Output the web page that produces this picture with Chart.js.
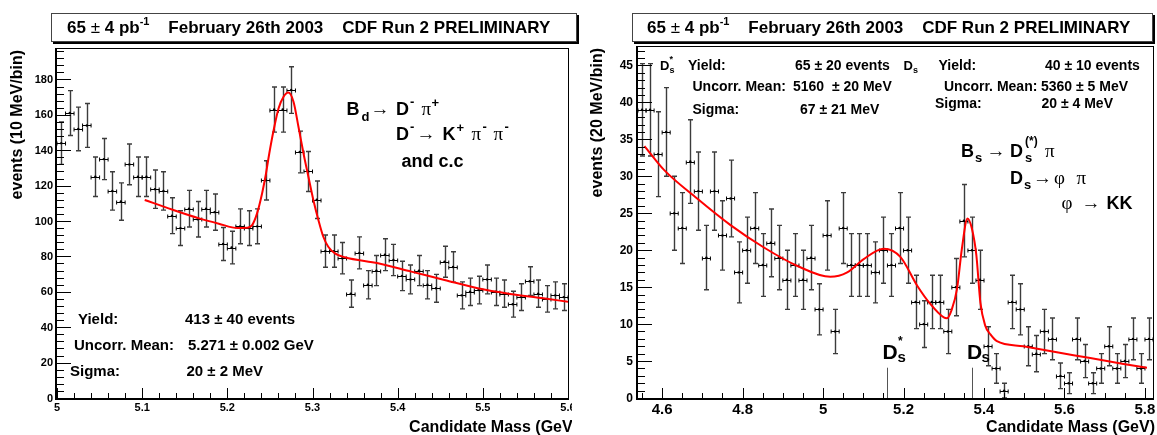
<!DOCTYPE html>
<html>
<head>
<meta charset="utf-8">
<script src="https://cdn.jsdelivr.net/npm/chart.js@4.4.1/dist/chart.umd.min.js"></script>
<style>
  html, body { margin: 0; padding: 0; background: #fff; }
  body { width: 1157px; height: 435px; position: relative; overflow: hidden;
         font-family: "Liberation Sans", Arial, Helvetica, sans-serif; }
  canvas { position: absolute; top: 0; }
  #bdCanvas { left: 0; }
  #bsCanvas { left: 580px; }
  .runbox { position: absolute; top: 13px; height: 29px; box-sizing: border-box;
            border: 1px solid #444; box-shadow: 2px 2px 0 #000; background: #fff;
            font-weight: bold; font-size: 17px; line-height: 27px; white-space: pre; color: #000; }
  .runbox sup { font-size: 11px; line-height: 0; position: relative; top: -1px; }
  .runbox .pm { font-weight: normal; }
</style>
</head>
<body>
<canvas id="bdCanvas" width="572" height="435"></canvas>
<canvas id="bsCanvas" width="577" height="435"></canvas>
<div class="runbox" style="left:51px;width:526px;padding-left:15px">65 <span class="pm">±</span> 4 pb<sup>-1</sup>    February 26th 2003    CDF Run 2 PRELIMINARY</div>
<div class="runbox" style="left:632px;width:521px;padding-left:14px">65 <span class="pm">±</span> 4 pb<sup>-1</sup>    February 26th 2003    CDF Run 2 PRELIMINARY</div>

<script>
// ---------- B_d -> D pi : 10 MeV bins ----------
const bdMass = [5.005, 5.015, 5.025, 5.035, 5.045, 5.055, 5.065, 5.075, 5.085, 5.095,
                5.105, 5.115, 5.125, 5.135, 5.145, 5.155, 5.165, 5.175, 5.185, 5.195,
                5.205, 5.215, 5.225, 5.235, 5.245, 5.255, 5.265, 5.275, 5.285, 5.295,
                5.305, 5.315, 5.325, 5.335, 5.345, 5.355, 5.365, 5.375, 5.385, 5.395,
                5.405, 5.415, 5.425, 5.435, 5.445, 5.455, 5.465, 5.475, 5.485, 5.495,
                5.505, 5.515, 5.525, 5.535, 5.545, 5.555, 5.565, 5.575, 5.585, 5.595];
const bdEvents = [144, 161, 152, 154, 125, 135, 117, 111, 132, 125,
                  125, 118, 117, 103, 96, 107, 101, 107, 105, 87,
                  85, 97, 96, 97, 123, 163, 163, 174, 139, 128,
                  112, 83, 83, 79, 59, 82, 64, 72, 81, 78,
                  69, 67, 72, 64, 62, 77, 74, 58, 60, 61,
                  67, 60, 59, 53, 57, 66, 59, 56, 58, 57];
// fitted shape (background + gaussian), sampled along the drawn curve
const bdFitMass = [5.103, 5.135, 5.167, 5.19, 5.212, 5.2229, 5.2291, 5.2349, 5.2408, 5.2447,
                   5.2493, 5.2544, 5.2602, 5.266, 5.2715, 5.2777, 5.2835, 5.2894, 5.2952, 5.301,
                   5.3069, 5.3127, 5.3185, 5.3264, 5.338, 5.377, 5.416, 5.455, 5.494, 5.532,
                   5.571, 5.6];
const bdFitEvents = [111.9, 106.5, 101.5, 98.5, 96.0, 96.2, 97.7, 104.3, 115.6, 125.0,
                     138.3, 151.4, 163.7, 170.2, 172.6, 167.4, 153.3, 138.3, 125.0, 111.9,
                     100.6, 91.1, 85.5, 81.7, 79.5, 76.1, 71.4, 66.7, 62.0, 58.8,
                     56.3, 54.4];
const bdXTicks = [5.0, 5.1, 5.2, 5.3, 5.4, 5.5, 5.6];
const bdXTickLabels = ['5', '5.1', '5.2', '5.3', '5.4', '5.5', '5.6'];
const bdYTicks = [0, 20, 40, 60, 80, 100, 120, 140, 160, 180];

// ---------- B_s -> D_s(*) pi : 20 MeV bins ----------
const bsMass = [4.55, 4.57, 4.59, 4.61, 4.63, 4.65, 4.67, 4.69, 4.71, 4.73,
                4.75, 4.77, 4.79, 4.81, 4.83, 4.85, 4.87, 4.89, 4.91, 4.93,
                4.95, 4.97, 4.99, 5.01, 5.03, 5.05, 5.07, 5.09, 5.11, 5.13,
                5.15, 5.17, 5.19, 5.21, 5.23, 5.25, 5.27, 5.29, 5.31, 5.33,
                5.35, 5.37, 5.39, 5.41, 5.43, 5.45, 5.47, 5.49, 5.51, 5.53,
                5.55, 5.57, 5.59, 5.61, 5.63, 5.65, 5.67, 5.69, 5.71, 5.73,
                5.75, 5.77, 5.79, 5.81];
const bsEvents = [39, 39, 33, 36, 25, 23, 32, 28, 19, 28,
                  22, 27, 17, 20, 23, 18, 21, 19, 16, 18,
                  16, 19, 12, 22, 9, 23, 18, 18, 18, 17,
                  20, 18, 23, 20, 13, 10, 13, 13, 9, 15,
                  24, 20, 16, 7, 4, 1, 13, 12, 7, 6,
                  9, 8, 3, 2, 8, 5, 2, 4, 7, 4,
                  5, 8, 4, 8];
const bsFitMass = [4.556, 4.604, 4.687, 4.77, 4.852, 4.935, 5.018, 5.06, 5.101, 5.151,
                   5.192, 5.234, 5.267, 5.3, 5.308, 5.32, 5.333, 5.345, 5.359, 5.37,
                   5.381, 5.391, 5.403, 5.416, 5.432, 5.498, 5.581, 5.664, 5.747, 5.805];
const bsFitEvents = [34.1, 30.9, 27.0, 23.4, 20.4, 17.9, 16.4, 17.0, 18.8, 20.2,
                     19.1, 15.2, 12.7, 10.9, 10.8, 12.0, 14.8, 20.2, 24.3, 22.9,
                     19.3, 12.9, 9.8, 8.6, 7.7, 7.0, 6.2, 5.4, 4.6, 4.1];
const bsXTicks = [4.6, 4.8, 5.0, 5.2, 5.4, 5.6, 5.8];
const bsXTickLabels = ['4.6', '4.8', '5', '5.2', '5.4', '5.6', '5.8'];
const bsYTicks = [0, 5, 10, 15, 20, 25, 30, 35, 40, 45];
// fitted peak positions flagged under the spectrum
const bsPeakMarks = [5.16, 5.37];

const SANS = '"Liberation Sans", Arial, Helvetica, sans-serif';
const SERIF = '"Liberation Serif", "DejaVu Serif", serif';
const bold = (px) => `bold ${px}px ${SANS}`;
const sym = (px) => `${px}px ${SERIF}`;

// Poisson error bars with bin-width horizontal bars (ROOT "E1" look)
function histErrorPlugin(mass, counts, binWidth) {
  return {
    id: 'histErrors',
    beforeDatasetsDraw(chart) {
      const { ctx, chartArea: a, scales: { x, y } } = chart;
      ctx.save();
      ctx.beginPath();
      ctx.rect(a.left, a.top, a.right - a.left, a.bottom - a.top);
      ctx.clip();
      mass.forEach((m, i) => {
        const n = counts[i];
        const e = Math.sqrt(n);
        const px = Math.round(x.getPixelForValue(m)) + 0.5;
        const py = Math.round(y.getPixelForValue(n)) + 0.5;
        const x0 = x.getPixelForValue(m - binWidth / 2);
        const x1 = x.getPixelForValue(m + binWidth / 2);
        const yt = y.getPixelForValue(n + e);
        const yb = y.getPixelForValue(Math.max(0, n - e));
        ctx.strokeStyle = '#3c3c3c';
        ctx.lineWidth = 1.4;
        ctx.beginPath();
        ctx.moveTo(px, yt); ctx.lineTo(px, yb);
        ctx.moveTo(px - 2.5, yt); ctx.lineTo(px + 2.5, yt);
        ctx.moveTo(px - 2.5, yb); ctx.lineTo(px + 2.5, yb);
        ctx.stroke();
        ctx.strokeStyle = '#000';
        ctx.lineWidth = 1;
        ctx.beginPath();
        ctx.moveTo(x0, py); ctx.lineTo(x1, py);
        ctx.moveTo(x0, py - 2); ctx.lineTo(x0, py + 2);
        ctx.moveTo(x1, py - 2); ctx.lineTo(x1, py + 2);
        ctx.stroke();
      });
      ctx.restore();
    }
  };
}

// frame, inward ticks, tick labels, axis titles and the text annotations
function rootFramePlugin(spec) {
  return {
    id: 'rootFrame',
    afterDraw(chart) {
      const { ctx, chartArea: a, scales: { x, y } } = chart;
      ctx.save();
      // frame
      ctx.strokeStyle = '#000';
      ctx.lineWidth = 1;
      ctx.beginPath();
      ctx.moveTo(a.left, a.top - 0.5); ctx.lineTo(a.right + 1, a.top - 0.5);
      ctx.moveTo(a.right + 0.5, a.top); ctx.lineTo(a.right + 0.5, a.bottom);
      ctx.stroke();
      ctx.lineWidth = 2;
      ctx.beginPath();
      ctx.moveTo(a.left - 1, a.top - 1); ctx.lineTo(a.left - 1, a.bottom + 1);
      ctx.lineTo(a.right + 1, a.bottom + 1);
      ctx.stroke();

      // inward ticks
      ctx.lineWidth = 1;
      ctx.beginPath();
      const near = (list, v, tol) => list.some(t => Math.abs(t - v) < tol);
      for (let k = Math.ceil(x.min / spec.xMinor - 1e-6); k <= Math.floor(x.max / spec.xMinor + 1e-6); k++) {
        const v = k * spec.xMinor;
        const len = near(spec.xTicks, v, spec.xMinor / 10) ? spec.xMajorLen : spec.xMinorLen;
        const p = Math.round(x.getPixelForValue(v)) + 0.5;
        ctx.moveTo(p, a.bottom); ctx.lineTo(p, a.bottom - len);
      }
      for (let k = Math.ceil(y.min / spec.yMinor - 1e-6); k <= Math.floor(y.max / spec.yMinor + 1e-6); k++) {
        const v = k * spec.yMinor;
        const len = near(spec.yTicks, v, spec.yMinor / 10) ? spec.yMajorLen : spec.yMinorLen;
        const p = Math.round(y.getPixelForValue(v)) + 0.5;
        ctx.moveTo(a.left, p); ctx.lineTo(a.left + len, p);
      }
      ctx.stroke();

      // tick labels
      ctx.fillStyle = '#000';
      ctx.font = bold(spec.xLabelPx);
      ctx.textAlign = 'center';
      ctx.textBaseline = 'middle';
      spec.xTicks.forEach((v, i) => ctx.fillText(spec.xTickLabels[i], x.getPixelForValue(v), spec.xLabelY));
      ctx.font = bold(spec.yLabelPx);
      ctx.textAlign = 'right';
      spec.yTicks.forEach(v => ctx.fillText(String(v), spec.yLabelRight, y.getPixelForValue(v) + 0.5));

      // axis titles
      ctx.font = bold(16);
      ctx.textAlign = 'right';
      ctx.textBaseline = 'alphabetic';
      ctx.fillText('Candidate Mass (GeV)', spec.xTitleRight, 431.5);
      ctx.save();
      ctx.translate(spec.yTitleX, spec.yTitleTop);
      ctx.rotate(-Math.PI / 2);
      ctx.font = bold(16);
      ctx.textAlign = 'right';
      ctx.textBaseline = 'middle';
      ctx.fillText(spec.yTitle, 0, 0);
      ctx.restore();

      // annotations
      ctx.textAlign = 'left';
      ctx.textBaseline = 'alphabetic';
      spec.texts.forEach(([t, px, py, font]) => { ctx.font = font; ctx.fillText(t, px, py); });
      if (spec.extra) spec.extra(ctx, x, y, a);
      ctx.restore();
    }
  };
}

function makeConfig(mass, counts, fitMass, fitEvents, xRange, yRange, padding) {
  return {
    data: {
      datasets: [
        {
          type: 'line',
          data: fitMass.map((m, i) => ({ x: m, y: fitEvents[i] })),
          borderColor: '#ff0000',
          borderWidth: 2,
          pointRadius: 0,
          cubicInterpolationMode: 'monotone',
          fill: false
        },
        {
          type: 'scatter',
          data: mass.map((m, i) => ({ x: m, y: counts[i] })),
          backgroundColor: '#000',
          borderColor: '#000',
          pointRadius: 1.2,
          pointBorderWidth: 0
        }
      ]
    },
    options: {
      responsive: false,
      animation: false,
      events: [],
      layout: { padding },
      plugins: { legend: { display: false }, tooltip: { enabled: false } },
      scales: {
        x: { type: 'linear', min: xRange[0], max: xRange[1], bounds: 'data', display: false },
        y: { type: 'linear', min: yRange[0], max: yRange[1], bounds: 'data', display: false }
      }
    }
  };
}

// ---- left pad ----
const bdCfg = makeConfig(bdMass, bdEvents, bdFitMass, bdFitEvents, [5.0, 5.6], [0, 197.2],
                         { left: 57, right: 0, top: 49, bottom: 37 });
bdCfg.plugins = [
  histErrorPlugin(bdMass, bdEvents, 0.01),
  rootFramePlugin({
    xTicks: bdXTicks, xTickLabels: bdXTickLabels, xMinor: 0.02, xMajorLen: 10, xMinorLen: 5,
    yTicks: bdYTicks, yMinor: 4, yMajorLen: 14, yMinorLen: 7,
    xLabelPx: 11, xLabelY: 408, yLabelPx: 11, yLabelRight: 53,
    xTitleRight: 578, yTitle: 'events (10 MeV/bin)', yTitleX: 18, yTitleTop: 50,
    texts: [
      ['Yield:', 78, 324, bold(15)], ['413 ± 40 events', 185, 324, bold(15)],
      ['Uncorr. Mean:', 74, 350, bold(15)], ['5.271 ± 0.002 GeV', 188, 350, bold(15)],
      ['Sigma:', 70, 376, bold(15)], ['20 ± 2 MeV', 186.5, 376, bold(15)],
      ['B', 346.5, 115, bold(18)], ['d', 361.5, 121, bold(13)], ['→', 370.5, 115, sym(19)],
      ['D', 396, 115, bold(18)], ['-', 410, 106, bold(13)], ['π', 421.5, 115, sym(19)],
      ['+', 431.5, 107, bold(13)],
      ['D', 396, 140, bold(18)], ['-', 410, 131, bold(13)], ['→', 416.5, 140, sym(19)],
      ['K', 442.5, 140, bold(18)], ['+', 456.5, 132, bold(13)], ['π', 471.5, 140, sym(19)],
      ['-', 482.5, 131, bold(13)], ['π', 493.5, 140, sym(19)], ['-', 504.5, 131, bold(13)],
      ['and c.c', 401.5, 166.5, bold(18)]
    ]
  })
];
new Chart(document.getElementById('bdCanvas'), bdCfg);

// ---- right pad ----
const bsCfg = makeConfig(bsMass, bsEvents, bsFitMass, bsFitEvents, [4.54, 5.82], [0, 47.5],
                         { left: 58, right: 3, top: 47, bottom: 37 });
bsCfg.plugins = [
  histErrorPlugin(bsMass, bsEvents, 0.02),
  rootFramePlugin({
    xTicks: bsXTicks, xTickLabels: bsXTickLabels, xMinor: 0.05, xMajorLen: 10, xMinorLen: 5,
    yTicks: bsYTicks, yMinor: 1, yMajorLen: 14, yMinorLen: 7,
    xLabelPx: 15, xLabelY: 410, yLabelPx: 12, yLabelRight: 53,
    xTitleRight: 575, yTitle: 'events (20 MeV/bin)', yTitleX: 18, yTitleTop: 48,
    texts: [
      ['D', 80, 69.5, bold(13)], ['*', 89.5, 62, bold(9)], ['s', 89.5, 73, bold(9)],
      ['Yield:', 108, 69.5, bold(14)], ['65 ± 20 events', 215, 69.5, bold(14)],
      ['Uncorr. Mean:', 112.5, 91, bold(14)], ['5160  ± 20 MeV', 213, 91, bold(14)],
      ['Sigma:', 112.5, 113.5, bold(14)], ['67 ± 21 MeV', 220, 113.5, bold(14)],
      ['D', 323.5, 69.5, bold(13)], ['s', 333, 73, bold(9)],
      ['Yield:', 358.5, 69.5, bold(14)], ['40 ± 10 events', 465, 69.5, bold(14)],
      ['Uncorr. Mean:', 364, 91, bold(14)], ['5360 ± 5 MeV', 461, 91, bold(14)],
      ['Sigma:', 355, 108, bold(14)], ['20 ± 4 MeV', 461.5, 108, bold(14)],
      ['B', 381, 156.5, bold(18)], ['s', 395, 162, bold(13)], ['→', 406.5, 156.5, sym(19)],
      ['D', 430, 156.5, bold(18)], ['(*)', 445, 145, bold(12)], ['s', 445, 162, bold(13)],
      ['π', 465, 156.5, sym(19)],
      ['D', 430, 183.5, bold(18)], ['s', 444, 188.5, bold(13)], ['→', 453, 183.5, sym(19)],
      ['φ', 474, 183.5, sym(19)], ['π', 496.5, 183.5, sym(19)],
      ['φ', 481.5, 208.5, sym(19)], ['→', 501.5, 208.5, sym(19)], ['KK', 526.5, 208.5, bold(18)],
      ['D', 302.5, 358.5, bold(21)], ['*', 318, 345, bold(12)], ['s', 317.5, 362, bold(15)],
      ['D', 387, 358.5, bold(21)], ['s', 401.5, 362, bold(15)]
    ],
    extra(ctx, x, y, a) {
      // thin flags at the two fitted D_s(*) peak positions
      ctx.strokeStyle = '#555';
      ctx.lineWidth = 1;
      ctx.beginPath();
      bsPeakMarks.forEach(m => {
        const p = Math.round(x.getPixelForValue(m)) + 0.5;
        ctx.moveTo(p, a.bottom);
        ctx.lineTo(p, y.getPixelForValue(4.1));
      });
      ctx.stroke();
    }
  })
];
new Chart(document.getElementById('bsCanvas'), bsCfg);
</script>
</body>
</html>
